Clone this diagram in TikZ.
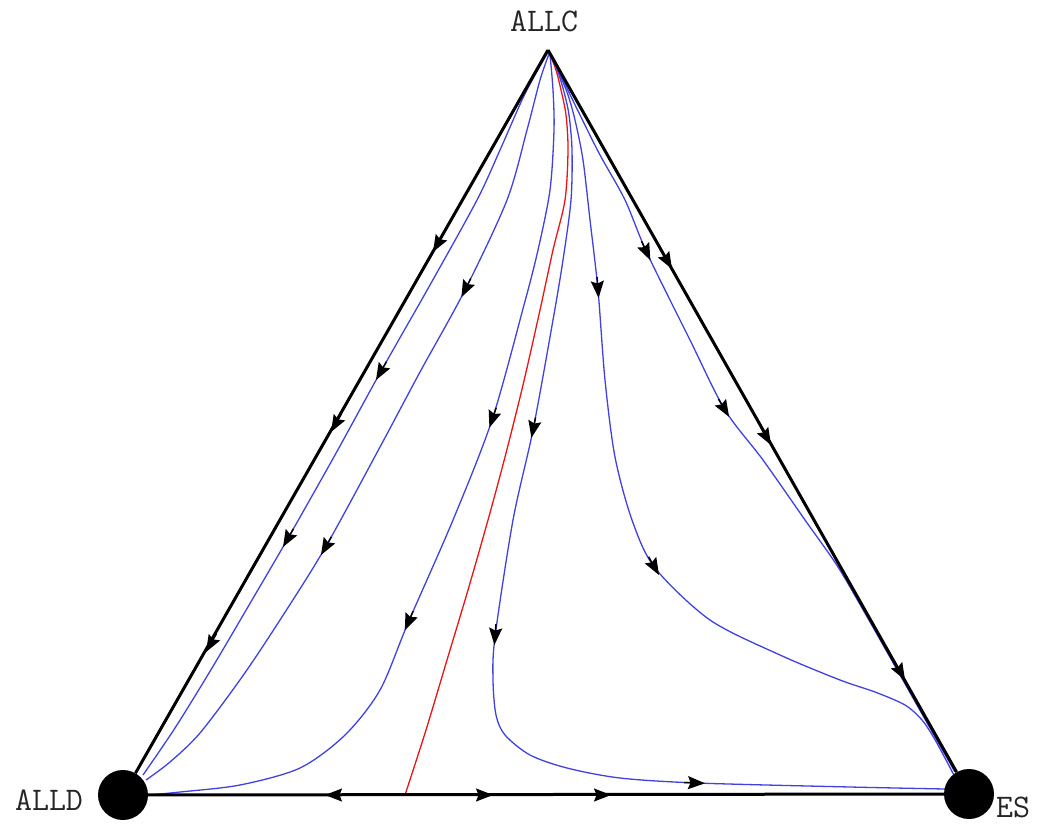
\documentclass[tikz,border=0pt]{standalone}
\usetikzlibrary{arrows.meta,calc,backgrounds}
\definecolor{flowblue}{RGB}{65,65,225}
\definecolor{sepred}{RGB}{235,20,20}
\tikzset{
  vertexdot/.style={circle,fill=black,draw=none,minimum size=50pt,inner sep=0pt},
  simplexedge/.style={draw=black,line width=3pt},
  flowline/.style={draw=flowblue,line width=1.3pt},
  sepline/.style={draw=sepred,line width=1.3pt},
  tipstyle/.style={draw=black,line width=1.5pt,-{Stealth[length=17pt,width=13pt,inset=2.5pt]}},
  vlabel/.style={font=\ttfamily\fontsize{33}{33}\selectfont,inner sep=0pt,text=black!85}
}
\newcommand\flowtip[2]{\draw[tipstyle] ($(#1)-1.6*(#2)$) -- ($(#1)+(#2)$);}
\begin{document}
\begin{tikzpicture}[x=1pt,y=-1pt]
\useasboundingbox (0,0) rectangle (1038,829);
% vertices
\coordinate (C) at (548,50);
\node[vertexdot] (D) at (123,795) {};
\node[vertexdot] (S) at (969,794) {};
% labels
\node[vlabel] (lC) at (544,21) {ALLC};
\node[vlabel] (lD) at (49,800) {ALLD};
\node[vlabel] (lS) at (1013,807) {ES};
\begin{scope}[on background layer]
% trajectories
\draw[flowline] plot[smooth] coordinates {(548,52) (535,75) (522,100) (500,150) (477,200) (430,285) (380,373) (335,455) (287,540) (252,600) (212,668) (175,728) (143,775)};
\draw[flowline] plot[smooth] coordinates {(549,54) (540,80) (527,130) (507,200) (465,290) (420,372) (380,447) (325,548) (280,620) (242,677) (200,733) (170,762) (146,780)};
\draw[flowline] plot[smooth] coordinates {(550,55) (553,90) (554,130) (550,190) (538,250) (524,305) (492,420) (453,520) (408,623) (380,690) (345,735) (300,768) (240,785) (180,792) (149,795)};
\draw[sepline] plot[smooth] coordinates {(550,55) (556,70) (561,90) (566,115) (568,150) (565,200) (553,250) (540,310) (523,385) (505,457) (488,520) (468,590) (447,660) (426,730) (405,795)};
\draw[flowline] plot[smooth] coordinates {(551,56) (558,72) (564,92) (569,115) (572,150) (571,200) (563,260) (553,320) (533,430) (513,520) (495,637) (493,680) (496,715) (505,735) (530,755) (567,768) (620,778) (697,783) (850,787) (945,789)};
\draw[flowline] plot[smooth] coordinates {(552,57) (560,75) (568,95) (575,120) (583,160) (590,220) (598,290) (605,380) (615,457) (632,520) (655,568) (710,620) (780,655) (840,680) (875,692) (905,705) (922,720) (934,738) (946,760) (957,781)};
\draw[flowline] plot[smooth] coordinates {(552,57) (563,80) (580,115) (600,155) (625,200) (647,253) (690,340) (725,410) (763,460) (805,520) (838,567) (870,622) (900,675) (930,728) (955,772)};
% simplex edges
\draw[simplexedge] (C) -- (D);
\draw[simplexedge] (C) -- (S);
\draw[simplexedge] (D) -- (S);
\end{scope}
% arrowheads on edges
\flowtip{437,245}{-4,7}
\flowtip{335,425}{-4,7}
\flowtip{210,645}{-4,7}
\flowtip{668,262}{4,7}
\flowtip{767,438}{4,7}
\flowtip{901,673}{4,7}
\flowtip{333,795}{-8,0}
\flowtip{485,795}{8,0}
\flowtip{603,795}{8,0}
% arrowheads on trajectories
\flowtip{380,373}{-4,7}
\flowtip{287,540}{-4,7}
\flowtip{465,290}{-3.6,7.2}
\flowtip{325,548}{-4,7}
\flowtip{492,420}{-2.6,7.6}
\flowtip{408,623}{-3.2,7.4}
\flowtip{533,430}{-1.6,7.8}
\flowtip{495,637}{-0.6,8}
\flowtip{697,783}{8,0.3}
\flowtip{598,290}{0.6,8}
\flowtip{655,568}{4,7}
\flowtip{647,253}{3.4,7.3}
\flowtip{725,410}{4.1,6.9}
\end{tikzpicture}
\end{document}
